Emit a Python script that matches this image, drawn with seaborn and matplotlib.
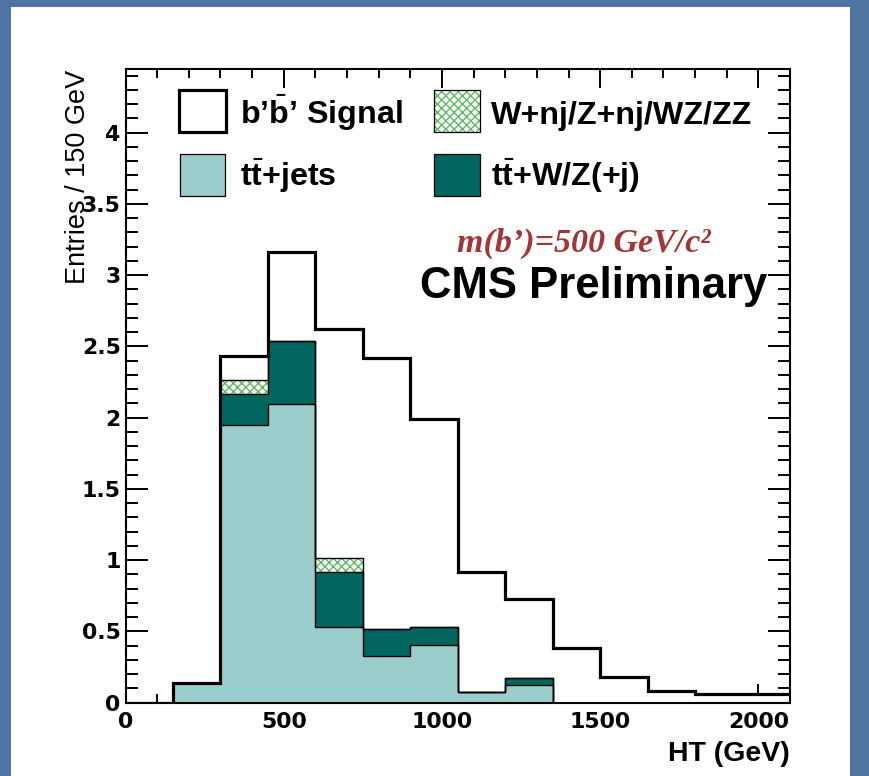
import numpy as np
import pandas as pd
import matplotlib
matplotlib.use("Agg")
import matplotlib.pyplot as plt
from matplotlib.patches import Rectangle
from matplotlib.ticker import MultipleLocator
import seaborn as sns

# ---- HT binning (GeV): 150 GeV per bin -------------------------------------
ht_low, ht_high, ht_width = 0, 2100, 150

# ---- expected entries per bin for each process -----------------------------
ttbar_jets = [0.0, 0.137, 1.95, 2.095, 0.53, 0.33, 0.405, 0.077, 0.124,
              0.0, 0.0, 0.0, 0.0, 0.0]
ttbar_wz = [0.0, 0.0, 0.215, 0.445, 0.39, 0.19, 0.128, 0.0, 0.047,
            0.0, 0.0, 0.0, 0.0, 0.0]
vjets_diboson = [0.0, 0.0, 0.10, 0.0, 0.095, 0.0, 0.0, 0.0, 0.0,
                 0.0, 0.0, 0.0, 0.0, 0.0]
bprime_signal = [0.0, 0.0, 0.17, 0.625, 1.605, 1.90, 1.455, 0.838, 0.554,
                 0.382, 0.183, 0.082, 0.061, 0.061]

legend_labels = ["b’$\\bar{\\mathbf{b}}$’ Signal", "W+nj/Z+nj/WZ/ZZ",
                 "t$\\bar{\\mathbf{t}}$+jets", "t$\\bar{\\mathbf{t}}$+W/Z(+j)"]

x_ticks = [0, 500, 1000, 1500, 2000]
x_tick_labels = ["0", "500", "1000", "1500", "2000"]
y_ticks = [0, 0.5, 1, 1.5, 2, 2.5, 3, 3.5, 4]
y_tick_labels = ["0", "0.5", "1", "1.5", "2", "2.5", "3", "3.5", "4"]

# ---- style -----------------------------------------------------------------
sns.set_style("ticks")
plt.rcParams["font.family"] = ["Liberation Sans", "DejaVu Sans"]
plt.rcParams["mathtext.fontset"] = "custom"
plt.rcParams["mathtext.rm"] = "Liberation Sans"
plt.rcParams["mathtext.it"] = "Liberation Sans:italic"
plt.rcParams["mathtext.bf"] = "Liberation Sans:bold"
plt.rcParams["hatch.linewidth"] = 1.0
for key in ("text.color", "axes.labelcolor", "xtick.color", "ytick.color",
            "xtick.labelcolor", "ytick.labelcolor"):
    plt.rcParams[key] = "black"

SLIDE_BLUE = "#5074a2"
LIGHT_TEAL = "#9bcdcc"
DARK_TEAL = "#00665f"
HATCH_GREEN = "#5fb865"
SIGNAL_RED = "#a23535"

W, H = 869, 776
fig = plt.figure(figsize=(W / 100, H / 100), dpi=100)
fig.patch.set_facecolor(SLIDE_BLUE)
fig.add_artist(Rectangle((11 / W, 0), (850 - 11) / W, (H - 7) / H,
                         transform=fig.transFigure, facecolor="white",
                         edgecolor="none", zorder=-5))

AX_L, AX_R, AX_T, AX_B = 125.5, 790.0, 69.0, 702.7
ax = fig.add_axes([AX_L / W, 1 - AX_B / H, (AX_R - AX_L) / W, (AX_B - AX_T) / H])
ax.set_facecolor("white")


def ax_xy(px, py):
    """Pixel position on the canvas -> axes fraction."""
    return (px - AX_L) / (AX_R - AX_L), (AX_B - py) / (AX_B - AX_T)


# ---- stacked histogram -----------------------------------------------------
edges = np.arange(ht_low, ht_high + ht_width, ht_width)
centers = edges[:-1] + ht_width / 2
bin_edges = [float(e) for e in edges]
stack = np.cumsum(np.vstack([ttbar_jets, ttbar_wz, vjets_diboson,
                             bprime_signal]), axis=0)


def layer_frame(heights):
    return pd.DataFrame({"ht": centers, "entries": heights})


def draw_fill(heights, face, hatch=None, hatch_color=None):
    n0 = len(ax.collections)
    sns.histplot(data=layer_frame(heights), x="ht", weights="entries",
                 bins=bin_edges, element="step", fill=True, color=face,
                 alpha=1, linewidth=0, ax=ax)
    for art in ax.collections[n0:]:
        art.set_facecolor(face)
        art.set_alpha(1)
        if hatch:
            art.set_edgecolor(hatch_color)
            art.set_hatch(hatch)
        art.set_linewidth(0)


def draw_outline(heights, lw):
    n0 = len(ax.lines)
    sns.histplot(data=layer_frame(heights), x="ht", weights="entries",
                 bins=bin_edges, element="step", fill=False, color="black",
                 linewidth=lw, ax=ax)
    for ln in ax.lines[n0:]:
        ln.set_solid_joinstyle("miter")
        ln.set_solid_capstyle("projecting")


# fills, from the full stack down to the bottom layer
draw_fill(stack[3], "white")
draw_fill(stack[2], "white", hatch="xxxx", hatch_color=HATCH_GREEN)
draw_fill(stack[1], DARK_TEAL)
draw_fill(stack[0], LIGHT_TEAL)
# layer boundaries, then the outer contour
draw_outline(stack[0], 1.0)
draw_outline(stack[1], 1.0)
draw_outline(stack[2], 1.0)
draw_outline(stack[3], 2.3)

# ---- axes ------------------------------------------------------------------
ax.set_xlim(ht_low, ht_high)
ax.set_ylim(0, 4.447)
for sp in ax.spines.values():
    sp.set_visible(True)
    sp.set_linewidth(1.5)
    sp.set_color("black")

tick_font = dict(fontsize=15.8, fontweight="bold", family="DejaVu Sans",
                 color="black")
ax.set_xticks(x_ticks, labels=x_tick_labels, **tick_font)
ax.set_yticks(y_ticks, labels=y_tick_labels, **tick_font)
ax.xaxis.set_minor_locator(MultipleLocator(100))
ax.yaxis.set_minor_locator(MultipleLocator(0.1))
ax.tick_params(which="both", direction="in", top=True, right=True,
               width=1.4, color="black")
ax.tick_params(axis="x", which="major", length=13.7, pad=6.5)
ax.tick_params(axis="x", which="minor", length=6.5)
ax.tick_params(axis="y", which="major", length=15.8, pad=3.5)
ax.tick_params(axis="y", which="minor", length=8.6)

ax.set_xlabel("")
ax.set_ylabel("")
tx, ty = ax_xy(790, 761)
ax.text(tx, ty, "HT (GeV)", transform=ax.transAxes, ha="right",
        va="baseline", fontsize=20.5, fontweight="bold", clip_on=False)
tx, ty = ax_xy(85, 70)
ax.text(tx, ty, "Entries / 150 GeV", transform=ax.transAxes, rotation=90,
        rotation_mode="anchor", ha="right", va="baseline", fontsize=19.5,
        clip_on=False)

# ---- annotations -----------------------------------------------------------
tx, ty = ax_xy(457, 252)
ax.text(tx, ty, "m(b’)=500 GeV/c²", transform=ax.transAxes,
        family="Liberation Serif", style="italic", fontweight="bold",
        fontsize=24.5, color=SIGNAL_RED, ha="left", va="baseline")
tx, ty = ax_xy(420, 298)
ax.text(tx, ty, "CMS Preliminary", transform=ax.transAxes,
        fontsize=31.5, fontweight="bold", ha="left", va="baseline")

# ---- legend ----------------------------------------------------------------
legend_boxes = [
    # (left, top, right, bottom) in canvas pixels, face, hatch, edge width
    ((179, 90, 226, 132), "white", None, 2.3),
    ((434, 90, 480, 132), "white", "xxxx", 0.9),
    ((180, 154, 225, 196), LIGHT_TEAL, None, 0.9),
    ((434, 154, 480, 196), DARK_TEAL, None, 0.9),
]
text_x = [240, 491, 240, 491]
text_baseline = [124, 124, 186, 186]
for (box, face, hatch, lw), label, txp, typ in zip(legend_boxes, legend_labels,
                                                    text_x, text_baseline):
    l, t, r, b = box
    x0, y0 = ax_xy(l, b)
    x1, y1 = ax_xy(r, t)
    if hatch:
        ax.add_patch(Rectangle((x0, y0), x1 - x0, y1 - y0, transform=ax.transAxes,
                               facecolor="white", edgecolor=HATCH_GREEN,
                               hatch=hatch, linewidth=0, zorder=5))
        ax.add_patch(Rectangle((x0, y0), x1 - x0, y1 - y0, transform=ax.transAxes,
                               facecolor="none", edgecolor="black",
                               linewidth=lw, zorder=6))
    else:
        ax.add_patch(Rectangle((x0, y0), x1 - x0, y1 - y0, transform=ax.transAxes,
                               facecolor=face, edgecolor="black",
                               linewidth=lw, zorder=6, joinstyle="miter"))
    tx, ty = ax_xy(txp, typ)
    ax.text(tx, ty, label, transform=ax.transAxes, fontsize=23.2,
            fontweight="bold", ha="left", va="baseline", zorder=7)

fig.savefig("out.png", dpi=100, facecolor=fig.get_facecolor())
